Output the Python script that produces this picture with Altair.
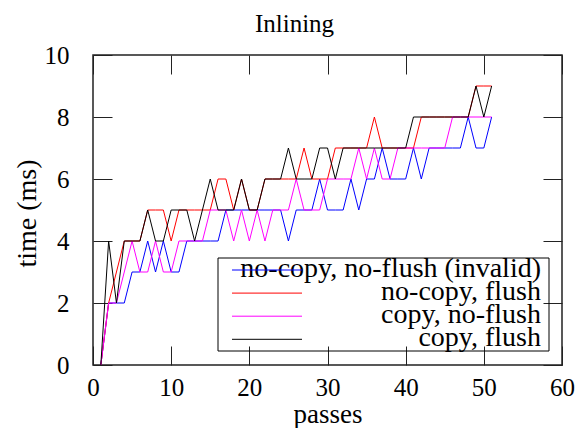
import altair as alt
import pandas as pd

# ---- data ----
passes = list(range(1, 52))
series_names = [
    "no-copy, no-flush (invalid)",
    "no-copy, flush",
    "copy, no-flush",
    "copy, flush",
]
series_colors = ["#0000ff", "#ff0000", "#ff00ff", "#000000"]

no_copy_no_flush = [0, 2, 2, 2, 3, 3, 4, 3, 4, 3,
                    3, 4, 4, 4, 4, 4, 5, 5, 5, 5,
                    5, 5, 5, 5, 4, 5, 5, 5, 6, 5,
                    5, 5, 6, 5, 6, 6, 7, 6, 6, 6,
                    7, 6, 7, 7, 7, 7, 7, 8, 7, 7, 8]
no_copy_flush = [0, 2, 3, 4, 4, 4, 5, 5, 5, 4,
                 5, 5, 5, 5, 5, 6, 6, 5, 6, 5,
                 5, 6, 6, 6, 6, 6, 7, 6, 6, 6,
                 7, 7, 7, 7, 7, 8, 7, 7, 7, 7,
                 7, 8, 8, 8, 8, 8, 8, 8, 9, 9, 9]
copy_no_flush = [0, 2, 2, 3, 4, 3, 3, 4, 3, 3,
                 4, 4, 4, 4, 5, 5, 5, 4, 5, 4,
                 5, 4, 5, 5, 5, 6, 5, 5, 5, 6,
                 6, 6, 6, 7, 6, 7, 6, 6, 7, 7,
                 7, 7, 7, 7, 7, 8, 8, 8, 8, 8, 8]
copy_flush = [0, 4, 2, 4, 4, 4, 5, 4, 4, 5,
              5, 5, 4, 5, 6, 5, 5, 5, 6, 5,
              5, 6, 6, 6, 7, 6, 6, 6, 7, 7,
              6, 7, 7, 7, 7, 7, 7, 7, 7, 7,
              8, 8, 8, 8, 8, 8, 8, 8, 9, 8, 9]
series_values = [no_copy_no_flush, no_copy_flush, copy_no_flush, copy_flush]

x_ticks = [0, 10, 20, 30, 40, 50, 60]
y_ticks = [0, 2, 4, 6, 8, 10]
chart_title = "Inlining"
x_title = "passes"
y_title = "time (ms)"

# ---- styling ----
FONT = "Liberation Serif"
W, H = 469, 310
TICK = 19
TICK_COLOR = "#222222"

x_scale = alt.Scale(domain=[0, 60], nice=False, zero=False)
y_scale = alt.Scale(domain=[0, 10], nice=False, zero=False)

common = dict(offset=-TICK, tickSize=TICK, domain=False, grid=False,
              tickColor=TICK_COLOR, tickWidth=1, labelFlush=False,
              labelOverlap=False)

x_bottom = alt.Axis(orient="bottom", values=x_ticks, format="d",
                    labelFont=FONT, labelFontSize=25, labelColor="black",
                    labelBaseline="alphabetic", labelPadding=30,
                    title=x_title, titleFont=FONT, titleFontSize=27,
                    titleFontWeight="normal", titleColor="black",
                    titleBaseline="alphabetic", titleY=76, **common)
x_top = alt.Axis(orient="top", values=x_ticks, labels=False, title="", **common)
y_left = alt.Axis(orient="left", values=y_ticks, format="d",
                  labelFont=FONT, labelFontSize=25, labelColor="black",
                  labelBaseline="middle", labelAlign="right", labelPadding=24,
                  title=y_title, titleFont=FONT, titleFontSize=28,
                  titleFontWeight="normal", titleColor="black",
                  titleAngle=270, titleBaseline="alphabetic",
                  titleAlign="center", titleX=-77, titleY=158, **common)
y_right = alt.Axis(orient="right", values=y_ticks, labels=False, title="", **common)

axes = [(x_bottom, y_left), (x_top, y_right), (None, None), (None, None)]

line_layers = []
for name, vals, color, (ax, ay) in zip(series_names, series_values, series_colors, axes):
    df = pd.DataFrame({"passes": passes, "time": vals, "series": name})
    line_layers.append(
        alt.Chart(df).mark_line(color=color, strokeWidth=1).encode(
            x=alt.X("passes:Q", scale=x_scale, axis=ax),
            y=alt.Y("time:Q", scale=y_scale, axis=ay),
        )
    )

one = alt.Data(values=[{}])

legend_box = alt.Chart(one).mark_rect(fill="white", fillOpacity=0, stroke="black",
                                      strokeWidth=1).encode(
    x=alt.value(125), x2=alt.value(456), y=alt.value(203), y2=alt.value(296))

legend_texts = []
legend_rules = []
for i, (name, color) in enumerate(zip(series_names, series_colors)):
    ys = 215 + 23.1 * i
    legend_texts.append(
        alt.Chart(one).mark_text(text=name, align="right", baseline="alphabetic",
                                 font=FONT, fontSize=28, color="black").encode(
            x=alt.value(448), y=alt.value(ys + 7)))
    legend_rules.append(
        alt.Chart(one).mark_rule(color=color, strokeWidth=1).encode(
            x=alt.value(139), x2=alt.value(209), y=alt.value(ys)))

title_mark = alt.Chart(one).mark_text(text=chart_title, align="center",
                                      baseline="alphabetic", font=FONT,
                                      fontSize=25, color="black").encode(
    x=alt.value(201.5), y=alt.value(-23))

chart = alt.layer(
    legend_box, *line_layers, *legend_texts, *legend_rules, title_mark
).resolve_axis(x="independent", y="independent").properties(
    width=W, height=H,
    autosize=alt.AutoSizeParams(type="none"),
    padding={"left": 85, "top": 47, "right": 13, "bottom": 63},
).configure_view(stroke="#222222", strokeWidth=1.5)

chart.save("out.html", embed_options={"renderer": "svg", "actions": False})
